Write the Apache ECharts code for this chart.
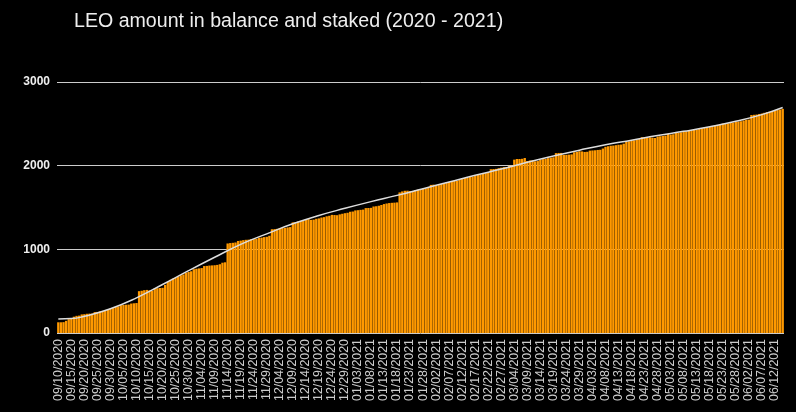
<!DOCTYPE html>
<html>
<head>
<meta charset="utf-8">
<script src="https://cdn.jsdelivr.net/npm/echarts@6/dist/echarts.min.js"></script>
<style>
  html, body { margin: 0; padding: 0; background: #000; }
  #main { width: 796px; height: 412px; }
</style>
</head>
<body>
<div id="main"></div>
<script>
// daily values, 09/10/2020 .. 06/15/2021
const amounts = [
  128, 128, 130, 145, 165, 168, 195, 205, 208, 222,
  225, 230, 232, 232, 250, 252, 258, 262, 272, 278,
  292, 298, 312, 318, 332, 335, 338, 340, 352, 355,
  358, 500, 505, 512, 515, 508, 505, 532, 535, 538,
  540, 575, 610, 635, 650, 658, 675, 690, 700, 720,
  730, 738, 762, 768, 772, 776, 800, 802, 806, 808,
  810, 814, 822, 840, 845, 1070, 1075, 1078, 1082, 1100,
  1104, 1110, 1114, 1116, 1120, 1122, 1125, 1138, 1140, 1146,
  1150, 1162, 1240, 1242, 1245, 1252, 1254, 1256, 1262, 1266,
  1322, 1326, 1333, 1340, 1345, 1355, 1361, 1352, 1355, 1365,
  1370, 1380, 1385, 1395, 1401, 1412, 1410, 1408, 1418, 1425,
  1432, 1437, 1449, 1452, 1465, 1468, 1472, 1475, 1493, 1494,
  1496, 1512, 1515, 1521, 1530, 1541, 1548, 1553, 1556, 1558,
  1561, 1680, 1692, 1700, 1701, 1696, 1698, 1709, 1712, 1721,
  1725, 1729, 1745, 1770, 1773, 1765, 1768, 1781, 1790, 1796,
  1805, 1812, 1818, 1820, 1835, 1840, 1852, 1856, 1864, 1870,
  1880, 1888, 1896, 1905, 1912, 1920, 1958, 1960, 1962, 1970,
  1976, 1982, 1984, 1998, 2000, 2072, 2080, 2080, 2082, 2092,
  2056, 2062, 2064, 2052, 2055, 2072, 2078, 2080, 2090, 2096,
  2100, 2150, 2152, 2152, 2128, 2130, 2132, 2135, 2160, 2164,
  2172, 2170, 2164, 2166, 2180, 2182, 2184, 2188, 2190, 2205,
  2225, 2232, 2238, 2240, 2245, 2250, 2252, 2263, 2288, 2291,
  2300, 2303, 2311, 2319, 2340, 2343, 2341, 2339, 2335, 2331,
  2348, 2351, 2355, 2359, 2379, 2371, 2375, 2391, 2395, 2399,
  2405, 2411, 2418, 2423, 2428, 2431, 2440, 2447, 2455, 2459,
  2466, 2471, 2480, 2487, 2495, 2503, 2503, 2505, 2511, 2515,
  2523, 2527, 2531, 2540, 2548, 2551, 2605, 2608, 2611, 2618,
  2623, 2632, 2639, 2645, 2651, 2660, 2665, 2671, 2679
];

// trend line: [day index, value]
const trendPoints = [
  [0, 168], [5, 172], [10, 200], [20, 290], [30, 420], [40, 580],
  [50, 745], [60, 905], [70, 1060], [80, 1185], [90, 1305], [100, 1405],
  [110, 1490], [120, 1570], [130, 1645], [140, 1725], [150, 1805],
  [160, 1885], [170, 1960], [180, 2040], [190, 2115], [200, 2185],
  [210, 2250], [220, 2305], [230, 2360], [240, 2410], [250, 2465],
  [260, 2530], [270, 2610], [278, 2695]
];

const yTicks = [0, 1000, 2000, 3000];

// category labels MM/DD/YYYY
const dates = [];
const start = new Date(2020, 8, 10);
for (let i = 0; i < amounts.length; i++) {
  const d = new Date(start.getFullYear(), start.getMonth(), start.getDate() + i);
  const mm = String(d.getMonth() + 1).padStart(2, '0');
  const dd = String(d.getDate()).padStart(2, '0');
  dates.push(mm + '/' + dd + '/' + d.getFullYear());
}

const trend = new Array(amounts.length).fill(null);
trendPoints.forEach(([i, v]) => { trend[i] = v; });

const chart = echarts.init(document.getElementById('main'));
chart.setOption({
  backgroundColor: '#000',
  animation: false,
  textStyle: { fontFamily: 'Liberation Sans, Arial, sans-serif' },
  title: {
    text: 'LEO amount in balance and staked (2020 - 2021)',
    left: 69,
    top: 7,
    textStyle: { color: '#eeeeee', fontSize: 19.6, fontWeight: 'normal' }
  },
  grid: { left: 57, right: 12, top: 82, bottom: 79 },
  xAxis: {
    type: 'category',
    data: dates,
    axisLine: { show: false },
    axisTick: { show: false },
    axisLabel: {
      interval: 4,
      rotate: 90,
      color: '#cccccc',
      fontSize: 12.4,
      margin: 6
    }
  },
  yAxis: {
    type: 'value',
    min: yTicks[0],
    max: yTicks[yTicks.length - 1],
    interval: 1000,
    axisLine: { show: false },
    axisTick: { show: false },
    splitLine: { lineStyle: { color: '#cccccc', width: 1 } },
    axisLabel: {
      color: '#eeeeee', fontSize: 12, fontWeight: 'bold', margin: 7,
      formatter: (v) => String(v)
    }
  },
  series: [
    {
      type: 'bar',
      data: amounts,
      barCategoryGap: '10%',
      itemStyle: { color: '#ff9900' }
    },
    {
      type: 'line',
      data: trend,
      connectNulls: true,
      smooth: 0.5,
      showSymbol: false,
      symbol: 'none',
      lineStyle: { color: '#dddddd', width: 1.5 },
      z: 5
    }
  ]
});
</script>
</body>
</html>
